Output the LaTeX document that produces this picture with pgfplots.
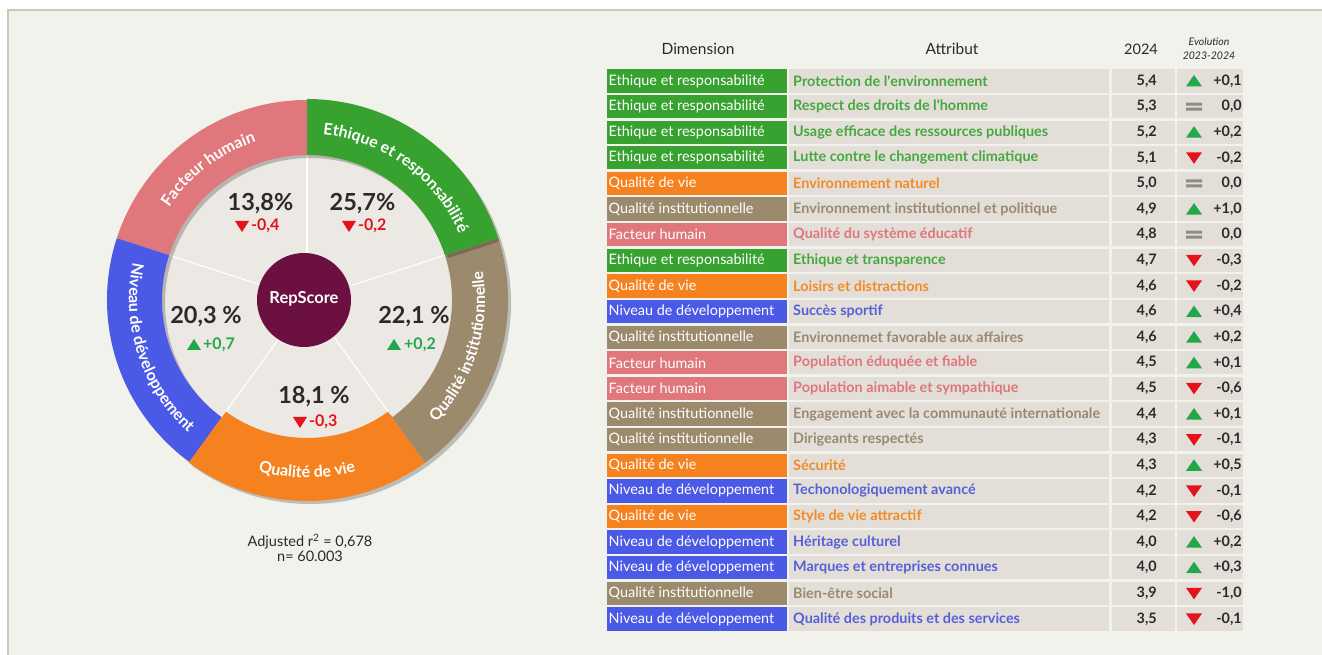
\documentclass[border=0pt]{standalone}
\usepackage{pgfplots}
\pgfplotsset{compat=1.18}
\usepackage{pgfplotstable}
\usepackage{fontspec}
\setmainfont{Lato}
\usetikzlibrary{decorations.text}

\definecolor{cPanel}{HTML}{F2F2EC}
\definecolor{cBorder}{HTML}{CFC7B6}
\definecolor{cDisk}{HTML}{ECE8E3}
\definecolor{cCell}{HTML}{E3DFD8}
\definecolor{cE}{HTML}{37A230}
\definecolor{cV}{HTML}{F5821F}
\definecolor{cI}{HTML}{9C8A6D}
\definecolor{cH}{HTML}{E0777C}
\definecolor{cN}{HTML}{4A5AE6}
\definecolor{cEt}{HTML}{45A83F}
\definecolor{cVt}{HTML}{F28A25}
\definecolor{cIt}{HTML}{978A70}
\definecolor{cHt}{HTML}{DE767B}
\definecolor{cNt}{HTML}{5560D8}
\definecolor{cRep}{HTML}{6B1040}
\definecolor{cUp}{HTML}{22A84A}
\definecolor{cDown}{HTML}{E3121B}
\definecolor{cEq}{HTML}{8E8C88}
\definecolor{cTxt}{HTML}{2A2A2A}

\pgfdeclareplotmark{dimcell}{\pgfpathrectangle{\pgfqpoint{0pt}{-11.65pt}}{\pgfqpoint{180pt}{23.3pt}}\pgfusepathqfill}
\pgfdeclareplotmark{attrcell}{\pgfpathrectangle{\pgfqpoint{0pt}{-11.65pt}}{\pgfqpoint{320pt}{23.3pt}}\pgfusepathqfill}
\pgfdeclareplotmark{scorecell}{\pgfpathrectangle{\pgfqpoint{0pt}{-11.65pt}}{\pgfqpoint{63pt}{23.3pt}}\pgfusepathqfill}
\pgfdeclareplotmark{evocell}{\pgfpathrectangle{\pgfqpoint{0pt}{-11.65pt}}{\pgfqpoint{66pt}{23.3pt}}\pgfusepathqfill}
\pgfdeclareplotmark{triup}{\pgfpathmoveto{\pgfqpoint{-8pt}{-5.5pt}}\pgfpathlineto{\pgfqpoint{8pt}{-5.5pt}}\pgfpathlineto{\pgfqpoint{0pt}{6pt}}\pgfpathclose\pgfusepathqfill}
\pgfdeclareplotmark{tridown}{\pgfpathmoveto{\pgfqpoint{-8pt}{5.5pt}}\pgfpathlineto{\pgfqpoint{8pt}{5.5pt}}\pgfpathlineto{\pgfqpoint{0pt}{-6pt}}\pgfpathclose\pgfusepathqfill}
\pgfdeclareplotmark{smallup}{\pgfpathmoveto{\pgfqpoint{-7pt}{-5pt}}\pgfpathlineto{\pgfqpoint{7pt}{-5pt}}\pgfpathlineto{\pgfqpoint{0pt}{6pt}}\pgfpathclose\pgfusepathqfill}
\pgfdeclareplotmark{smalldown}{\pgfpathmoveto{\pgfqpoint{-7pt}{5pt}}\pgfpathlineto{\pgfqpoint{7pt}{5pt}}\pgfpathlineto{\pgfqpoint{0pt}{-6pt}}\pgfpathclose\pgfusepathqfill}
\pgfdeclareplotmark{eqmark}{\pgfpathrectangle{\pgfqpoint{-8pt}{1pt}}{\pgfqpoint{16pt}{3pt}}\pgfpathrectangle{\pgfqpoint{-8pt}{-4pt}}{\pgfqpoint{16pt}{3pt}}\pgfusepathqfill}

% one table per dimension: row, attribute, score 2024, evolution text, trend
\pgfplotstableread[col sep=semicolon]{
row;attr;score;dtxt;trend
1;Protection de l\textquotesingle{}environnement;5.4;+0,1;up
2;Respect des droits de l\textquotesingle{}homme;5.3;0,0;eq
3;Usage efficace des ressources publiques;5.2;+0,2;up
4;Lutte contre le changement climatique;5.1;-0,2;down
8;Ethique et transparence;4.7;-0,3;down
}\tabE
\pgfplotstableread[col sep=semicolon]{
row;attr;score;dtxt;trend
5;Environnement naturel;5.0;0,0;eq
9;Loisirs et distractions;4.6;-0,2;down
16;Sécurité;4.3;+0,5;up
18;Style de vie attractif;4.2;-0,6;down
}\tabV
\pgfplotstableread[col sep=semicolon]{
row;attr;score;dtxt;trend
6;Environnement institutionnel et politique;4.9;+1,0;up
11;Environnemet favorable aux affaires;4.6;+0,2;up
14;Engagement avec la communauté internationale;4.4;+0,1;up
15;Dirigeants respectés;4.3;-0,1;down
21;Bien-être social;3.9;-1,0;down
}\tabI
\pgfplotstableread[col sep=semicolon]{
row;attr;score;dtxt;trend
7;Qualité du système éducatif;4.8;0,0;eq
12;Population éduquée et fiable;4.5;+0,1;up
13;Population aimable et sympathique;4.5;-0,6;down
}\tabH
\pgfplotstableread[col sep=semicolon]{
row;attr;score;dtxt;trend
10;Succès sportif;4.6;+0,4;up
17;Techonologiquement avancé;4.2;-0,1;down
19;Héritage culturel;4.0;+0,2;up
20;Marques et entreprises connues;4.0;+0,3;up
22;Qualité des produits et des services;3.5;-0,1;down
}\tabN

% donut: change markers of each dimension
\pgfplotstableread{
x y trend
-65 74 down
42 74 down
-113 -45 up
87 -45 up
-7 -122 down
}\donutdelta

\newcommand\tablefont{\fontsize{14.4}{16}\selectfont}

\newcommand\dimgroup[4]{%
  \addplot[only marks, mark=dimcell, color=#2,
    nodes near coords={#4},
    every node near coord/.append style={anchor=west, text=white, font=\tablefont, inner sep=1.5pt}]
    table[x expr=607, y=row]{#1};
  \addplot[only marks, mark=attrcell, color=cCell, point meta=explicit symbolic,
    nodes near coords,
    every node near coord/.append style={anchor=west, text=#3, font=\tablefont\bfseries, inner sep=4pt}]
    table[x expr=789, y=row, meta=attr]{#1};
  \addplot[only marks, mark=scorecell, color=cCell, point meta=explicit,
    nodes near coords={\pgfmathprintnumber[fixed,fixed zerofill,precision=1,use comma,assume math mode=true]{\pgfplotspointmeta}},
    every node near coord/.append style={anchor=east, xshift=45pt, text=cTxt, font=\tablefont\bfseries, inner sep=0pt}]
    table[x expr=1112, y=row, meta=score]{#1};
  \addplot[only marks, mark=evocell, color=cCell, point meta=explicit symbolic,
    nodes near coords,
    every node near coord/.append style={anchor=east, xshift=65pt, text=cTxt, font=\tablefont\bfseries, inner sep=0pt}]
    table[x expr=1177, y=row, meta=dtxt]{#1};
  \addplot[scatter, only marks, scatter src=explicit symbolic,
    scatter/classes={up={mark=triup, color=cUp}, down={mark=tridown, color=cDown}, eq={mark=eqmark, color=cEq}}]
    table[x expr=1194, y=row, meta=trend]{#1};
}

\newcommand\seg[5]{%
  \fill[black, opacity=0.22] (axis cs:{#4*cos(#1)+3},{#4*sin(#1)-3}) arc[start angle=#1, end angle=#2, radius=#4pt]
    -- (axis cs:{#3*cos(#2)+3},{#3*sin(#2)-3}) arc[start angle=#2, end angle=#1, radius=#3pt] -- cycle;
  \fill[#5] (axis cs:{#4*cos(#1)},{#4*sin(#1)}) arc[start angle=#1, end angle=#2, radius=#4pt]
    -- (axis cs:{#3*cos(#2)},{#3*sin(#2)}) arc[start angle=#2, end angle=#1, radius=#3pt] -- cycle;
}
\newcommand\ringlabel[4]{%
  \path[decorate, decoration={text along path, text align=center, text color=white,
     text={|\fontsize{16}{18}\selectfont\bfseries|#4}}]
     (axis cs:{#3*cos(#1)},{#3*sin(#1)}) arc[start angle=#1, end angle=#2, radius=#3pt];
}
\newcommand\sep[1]{%
  \draw[white, line width=1.2pt] (axis cs:{47*cos(#1)},{47*sin(#1)}) -- (axis cs:{147*cos(#1)},{147*sin(#1)});
}

\begin{document}
\begin{tikzpicture}
\useasboundingbox (0,0) rectangle (1322pt,655pt);
\fill[white] (0,0) rectangle (1322pt,655pt);
\filldraw[fill=cPanel, draw=cBorder, line width=1.2pt] (8pt,-20pt) rectangle (1340pt,645pt);

% ---------------- donut ----------------
\begin{axis}[at={(57pt,75pt)}, anchor=south west, scale only axis,
  width=500pt, height=530pt, xmin=-250, xmax=250, ymin=-280, ymax=250,
  hide axis, clip=false]
  \fill[cDisk] (axis cs:0,0) circle[radius=147pt];
  \sep{90}\sep{18}\sep{-54}\sep{-126}\sep{162}
  \seg{90}{162}{145}{200}{cH}
  \seg{162}{234}{145}{200}{cN}
  \seg{-126}{-54}{138}{201}{cV}
  \seg{-54}{18}{145}{201}{cI}
  \seg{18}{90}{145}{201}{cE}
  \fill[cRep] (axis cs:-3,0) circle[radius=47pt];
  \node[text=white, font=\fontsize{16.5}{18}\selectfont\bfseries] at (axis cs:-3,1) {RepScore};

  \ringlabel{164}{90}{166}{Facteur humain}
  \ringlabel{89}{19}{166}{Ethique et responsabilité}
  \ringlabel{-54}{20}{178}{Qualité institutionnelle}
  \ringlabel{-126}{-54}{178}{Qualité de vie}
  \ringlabel{162}{234}{178}{Niveau de développement}

  \node[font=\fontsize{23.5}{25}\selectfont\bfseries, text=cTxt] at (axis cs:-46.5,96) {13,8\%};
  \node[font=\fontsize{23.5}{25}\selectfont\bfseries, text=cTxt] at (axis cs:55.5,96) {25,7\%};
  \node[font=\fontsize{23.5}{25}\selectfont\bfseries, text=cTxt] at (axis cs:-101,-17) {20,3 \%};
  \node[font=\fontsize{23.5}{25}\selectfont\bfseries, text=cTxt] at (axis cs:107,-17) {22,1 \%};
  \node[font=\fontsize{23.5}{25}\selectfont\bfseries, text=cTxt] at (axis cs:7,-97) {18,1 \%};
  \addplot[scatter, only marks, scatter src=explicit symbolic,
    scatter/classes={up={mark=smallup, color=cUp}, down={mark=smalldown, color=cDown}}]
    table[x=x, y=y, meta=trend]{\donutdelta};
  \node[text=cDown, anchor=west, inner sep=0pt, font=\fontsize{16}{18}\selectfont\bfseries] at (axis cs:-56,74) {-0,4};
  \node[text=cDown, anchor=west, inner sep=0pt, font=\fontsize{16}{18}\selectfont\bfseries] at (axis cs:51,74) {-0,2};
  \node[text=cUp, anchor=west, inner sep=0pt, font=\fontsize{16}{18}\selectfont\bfseries] at (axis cs:-104,-45) {+0,7};
  \node[text=cUp, anchor=west, inner sep=0pt, font=\fontsize{16}{18}\selectfont\bfseries] at (axis cs:97,-45) {+0,2};
  \node[text=cDown, anchor=west, inner sep=0pt, font=\fontsize{16}{18}\selectfont\bfseries] at (axis cs:2,-122) {-0,3};
  \node[text=cTxt, font=\fontsize{14.5}{16}\selectfont, align=center] at (axis cs:3,-248)
     {Adjusted r\textsuperscript{2} = 0,678\\[-1pt] n= 60.003};
\end{axis}

% ---------------- table ----------------
\begin{axis}[at={(600pt,10.4pt)}, anchor=south west, scale only axis,
  width=650pt, height=589.26pt, xmin=600, xmax=1250, ymin=0, ymax=23,
  y dir=reverse, hide axis, clip=false]
  \dimgroup{\tabE}{cE}{cEt}{Ethique et responsabilité}
  \dimgroup{\tabV}{cV}{cVt}{Qualité de vie}
  \dimgroup{\tabI}{cI}{cIt}{Qualité institutionnelle}
  \dimgroup{\tabH}{cH}{cHt}{Facteur humain}
  \dimgroup{\tabN}{cN}{cNt}{Niveau de développement}
  \node[text=cTxt, font=\fontsize{15.5}{17}\selectfont] at (axis cs:698,-0.25) {Dimension};
  \node[text=cTxt, font=\fontsize{15.5}{17}\selectfont] at (axis cs:952,-0.25) {Attribut};
  \node[text=cTxt, font=\fontsize{14.5}{16}\selectfont] at (axis cs:1141,-0.25) {2024};
  \node[text=cTxt, font=\fontsize{10.5}{12}\selectfont\itshape] at (axis cs:1209,-0.52) {Evolution};
  \node[text=cTxt, font=\fontsize{10.5}{12}\selectfont\itshape] at (axis cs:1209,0.02) {2023-2024};
\end{axis}
\end{tikzpicture}
\end{document}
